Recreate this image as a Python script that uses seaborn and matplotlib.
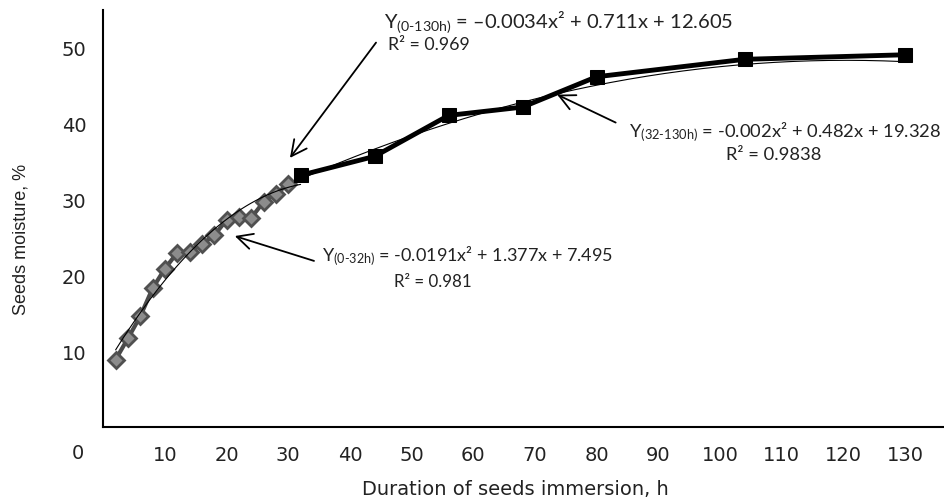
import numpy as np
import pandas as pd
import matplotlib
matplotlib.use("Agg")
import matplotlib.pyplot as plt
import seaborn as sns
from matplotlib import transforms

# ---- data ----
hours_early = [2, 4, 6, 8, 10, 12, 14, 16, 18, 20, 22, 24, 26, 28, 30]
moist_early = [8.9, 11.7, 14.6, 18.3, 20.9, 23.0, 23.1, 24.1, 25.3, 27.3, 27.7, 27.6, 29.7, 30.8, 32.0]
hours_late = [32, 44, 56, 68, 80, 104, 130]
moist_late = [33.2, 35.7, 41.1, 42.2, 46.2, 48.5, 49.1]

coef_0_32 = [-0.0191, 1.377, 7.495]
coef_32_130 = [-0.002, 0.482, 19.328]

x_ticks = [10, 20, 30, 40, 50, 60, 70, 80, 90, 100, 110, 120, 130]
y_ticks = [10, 20, 30, 40, 50]

eq_0_130 = "Y$_{\\text{(0-130h)}}$ = –0.0034x² + 0.711x + 12.605"
r2_0_130 = "R² = 0.969"
eq_32_130 = "Y$_{\\text{(32-130h)}}$ = -0.002x² + 0.482x + 19.328"
r2_32_130 = "R² = 0.9838"
eq_0_32 = "Y$_{\\text{(0-32h)}}$ = -0.0191x² + 1.377x + 7.495"
r2_0_32 = "R² = 0.981"

sns.set_theme(style="white")
plt.rcParams["font.family"] = ["DejaVu Sans"]
plt.rcParams["mathtext.fontset"] = "custom"
plt.rcParams["mathtext.rm"] = "Lato"
plt.rcParams["mathtext.it"] = "Lato:italic"
plt.rcParams["mathtext.bf"] = "Lato:bold"

fig = plt.figure(figsize=(9.45, 5.02), dpi=100)
ax = fig.add_axes([0.1093, 0.1474, 0.8907, 0.8306])

df_early = pd.DataFrame({"h": hours_early, "m": moist_early})
df_late = pd.DataFrame({"h": hours_late, "m": moist_late})

sns.lineplot(data=df_early, x="h", y="m", ax=ax, color="#4a4a4a", lw=3,
             marker="D", markersize=8, markerfacecolor="#8c8c8c",
             markeredgecolor="#505050", markeredgewidth=2.0, zorder=3)
sns.lineplot(data=df_late, x="h", y="m", ax=ax, color="black", lw=3.5,
             marker="s", markersize=10, markerfacecolor="black",
             markeredgecolor="black", zorder=4)

xe = np.linspace(hours_early[0], hours_late[0], 100)
xl = np.linspace(hours_late[0], hours_late[-1], 200)
df_fit_e = pd.DataFrame({"h": xe, "m": np.polyval(coef_0_32, xe)})
df_fit_l = pd.DataFrame({"h": xl, "m": np.polyval(coef_32_130, xl)})
sns.lineplot(data=df_fit_e, x="h", y="m", ax=ax, color="black", lw=0.8, zorder=5)
sns.lineplot(data=df_fit_l, x="h", y="m", ax=ax, color="black", lw=0.8, zorder=5)

ax.set_xlim(0, 136.5)
ax.set_ylim(0, 55)
ax.set_xticks(x_ticks)
ax.set_yticks(y_ticks)
ax.tick_params(axis="both", direction="in", length=6, width=1.3, color="black",
               labelsize=14, labelcolor="#222222")
ax.tick_params(axis="x", pad=13)
ax.tick_params(axis="y", pad=12)
for s in ["top", "right"]:
    ax.spines[s].set_visible(False)
for s in ["left", "bottom"]:
    ax.spines[s].set_color("black")
    ax.spines[s].set_linewidth(1.5)
ax.grid(False)

# "0" label of x axis, placed as in the reference
trans = transforms.blended_transform_factory(ax.transData, ax.transAxes)
ax.text(-4.1, -0.06, "0", transform=trans, ha="center", va="center",
        fontsize=14, color="#222222", clip_on=False)

ax.set_xlabel("Duration of seeds immersion, h", fontsize=14, color="#222222")
ax.set_ylabel("Seeds moisture, %", fontsize=13, color="#222222",
              family=["Liberation Sans", "DejaVu Sans"])
ax.xaxis.set_label_coords(0.49, -0.125)
ax.yaxis.set_label_coords(-0.088, 0.453)

lato = ["Lato", "DejaVu Sans"]
arrow = dict(arrowstyle="->", lw=1.3, color="black", mutation_scale=28)

ax.annotate("", xy=(30.0, 35.2), xytext=(44.5, 51.0), arrowprops=arrow)
ax.annotate("", xy=(73.2, 44.0), xytext=(83.5, 40.0), arrowprops=arrow)
ax.annotate("", xy=(20.9, 25.3), xytext=(34.6, 21.8), arrowprops=arrow)

ax.text(45.5, 53.6, eq_0_130, ha="left", va="center", family=lato, fontsize=14.5, color="#222222")
ax.text(46.2, 50.5, r2_0_130, ha="left", va="center", family=lato, fontsize=12.8, color="#222222")
ax.text(85.2, 39.0, eq_32_130, ha="left", va="center", family=lato, fontsize=13.2, color="#222222")
ax.text(108.7, 36.0, r2_32_130, ha="center", va="center", family=lato, fontsize=13.2, color="#222222")
ax.text(35.4, 22.7, eq_0_32, ha="left", va="center", family=lato, fontsize=13.0, color="#222222")
ax.text(53.4, 19.2, r2_0_32, ha="center", va="center", family=lato, fontsize=12.2, color="#222222")

fig.savefig("out.png", dpi=100)
